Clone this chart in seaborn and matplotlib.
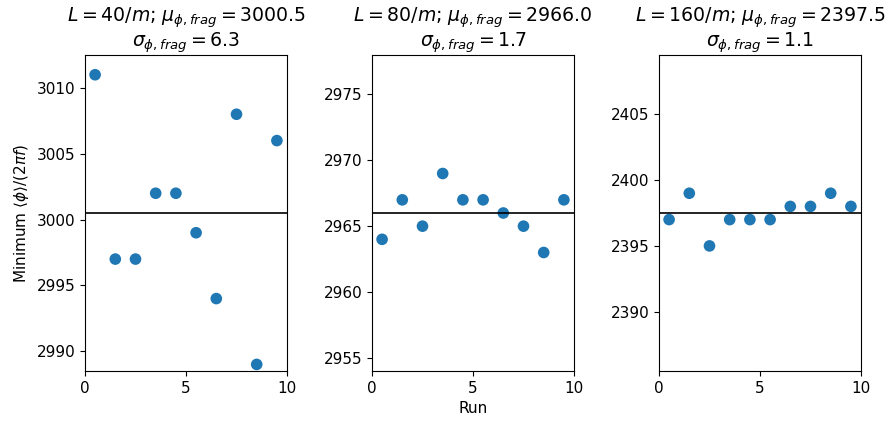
import numpy as np
import pandas as pd
import matplotlib
matplotlib.use("Agg")
import matplotlib.pyplot as plt
import seaborn as sns

runs = [0.5, 1.5, 2.5, 3.5, 4.5, 5.5, 6.5, 7.5, 8.5, 9.5]
lengths = [40, 80, 160]
min_phi_40 = [3011, 2997, 2997, 3002, 3002, 2999, 2994, 3008, 2989, 3006]
min_phi_80 = [2964, 2967, 2965, 2969, 2967, 2967, 2966, 2965, 2963, 2967]
min_phi_160 = [2397, 2399, 2395, 2397, 2397, 2397, 2398, 2398, 2399, 2398]

sns.set_style("ticks")
plt.rcParams['font.family'] = ['DejaVu Sans']
plt.rcParams['mathtext.fontset'] = 'dejavusans'
plt.rcParams['text.color'] = 'black'
plt.rcParams['axes.labelcolor'] = 'black'
plt.rcParams['xtick.color'] = 'black'
plt.rcParams['ytick.color'] = 'black'

fig = plt.figure(figsize=(8.86, 4.21), dpi=100)
lefts = [85, 372, 659]
for i, (L, vals) in enumerate(zip(lengths, [min_phi_40, min_phi_80, min_phi_160])):
    ax = fig.add_axes([lefts[i] / 886, 50 / 421, 202 / 886, 316 / 421])
    df = pd.DataFrame({'run': runs, 'val': vals})
    sns.scatterplot(data=df, x='run', y='val', ax=ax, s=70, color='#1f77b4',
                    edgecolor='none')
    mu = np.mean(vals)
    sd = np.std(vals)
    ax.axhline(mu, color='black', lw=1.2)
    ax.set_xlim(0, 10)
    ax.set_ylim(mu - 12, mu + 12)
    ax.set_xticks([0, 5, 10])
    ax.set_title(r'$L = %d/m$; $\mu_{\phi, frag} = %.1f$' % (L, mu) + '\n'
                 + r'$\sigma_{\phi, frag} = %.1f$' % sd, fontsize=13.6,
                 linespacing=1.0, color='black')
    ax.tick_params(labelsize=11)
    ax.set_xlabel('Run' if i == 1 else '', fontsize=11)
    ax.set_ylabel(r'Minimum $\langle \phi \rangle / (2 \pi f)$' if i == 0 else '',
                  fontsize=11)
    for sp in ax.spines.values():
        sp.set_color('black')

fig.savefig('out.png', dpi=100)
